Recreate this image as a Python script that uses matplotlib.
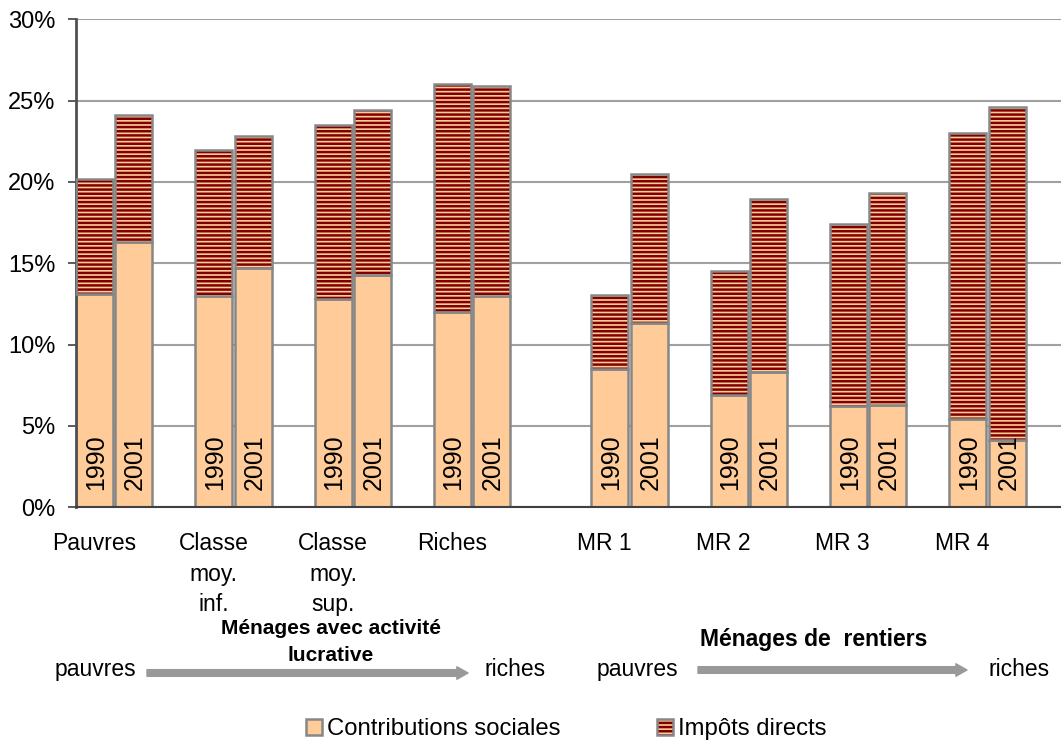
import numpy as np
import matplotlib
matplotlib.use("Agg")
import matplotlib.pyplot as plt
from matplotlib.patches import Rectangle

plt.rcParams['font.family'] = ['Liberation Sans', 'DejaVu Sans']
plt.rcParams['hatch.linewidth'] = 1.8

categories = ['Pauvres', 'Classe\nmoy.\ninf.', 'Classe\nmoy.\nsup.', 'Riches',
              'MR 1', 'MR 2', 'MR 3', 'MR 4']
years = ['1990', '2001']
series_names = ['Contributions sociales', 'Impôts directs']
# contributions sociales (% du revenu)
contrib_1990 = [13.1, 13.0, 12.8, 12.0, 8.5, 6.9, 6.25, 5.4]
contrib_2001 = [16.3, 14.7, 14.3, 13.0, 11.3, 8.3, 6.3, 4.15]
# charge totale (contributions + impôts directs)
total_1990 = [20.2, 21.95, 23.5, 26.0, 13.05, 14.55, 17.4, 23.0]
total_2001 = [24.1, 22.8, 24.4, 25.9, 20.5, 18.95, 19.3, 24.6]

impots_1990 = np.array(total_1990) - np.array(contrib_1990)
impots_2001 = np.array(total_2001) - np.array(contrib_2001)

PEACH = '#ffcc99'
DARKRED = '#800000'
EDGE = '#878787'

W, H = 1061, 742
fig = plt.figure(figsize=(W / 100, H / 100), dpi=100)
ax = fig.add_axes([76 / W, (H - 507.3) / H, (W - 76) / W, 488 / H])

# two groups of households, the second shifted right a bit
starts = np.arange(len(categories), dtype=float)
starts[4:] += 0.32
bw = 0.31
off = 0.331

for contrib, impots, shift, yr in [(contrib_1990, impots_1990, 0.0, years[0]),
                                   (contrib_2001, impots_2001, off, years[1])]:
    xs = starts + shift
    ax.bar(xs, contrib, width=bw, align='edge', color=PEACH,
           edgecolor=EDGE, linewidth=1.8, zorder=2)
    ax.bar(xs, impots, bottom=contrib, width=bw, align='edge', color=PEACH,
           edgecolor=DARKRED, hatch='----', linewidth=0, zorder=2)
    ax.bar(xs, impots, bottom=contrib, width=bw, align='edge', color='none',
           edgecolor=EDGE, linewidth=1.8, zorder=3)
    for x in xs:
        ax.text(x + bw / 2 + 0.01, 1.06, yr, rotation=90, ha='center',
                va='bottom', fontsize=18, zorder=4)

ax.set_xlim(0, (W - 76) / 119.3)
ax.set_ylim(0, 30)
ax.set_yticks(np.arange(0, 31, 5))
ax.set_yticklabels([f'{v}%' for v in range(0, 31, 5)])
ax.tick_params(axis='y', length=6, width=1.2, color='#404040', pad=9,
               labelsize=17)

label_off = np.where(np.arange(len(categories)) < 4, 0.155, 0.105)
ax.set_xticks(starts + label_off)
ax.set_xticklabels(categories, fontsize=16.5, linespacing=1.4)
ax.tick_params(axis='x', length=0, pad=18)

ax.yaxis.grid(True, color='#a0a0a0', linewidth=1.5)
ax.set_axisbelow(True)
for s in ['top', 'right']:
    ax.spines[s].set_visible(False)
ax.spines['left'].set_color('#505050')
ax.spines['left'].set_linewidth(2)
ax.spines['bottom'].set_color('#404040')
ax.spines['bottom'].set_linewidth(1.5)


def fy(y):
    return H - y


# group captions and pauvres -> riches arrows
fig.text(331 / W, fy(634) / H, 'Ménages avec activité', ha='center',
         va='baseline', fontsize=15, fontweight='bold')
fig.text(331 / W, fy(661) / H, 'lucrative', ha='center', va='baseline',
         fontsize=15, fontweight='bold')
fig.text(814 / W, fy(646) / H, 'Ménages de  rentiers', ha='center',
         va='baseline', fontsize=16.5, fontweight='bold')

for x, txt in [(95, 'pauvres'), (515, 'riches'), (637, 'pauvres'), (1019, 'riches')]:
    fig.text(x / W, fy(676) / H, txt, ha='center', va='baseline', fontsize=16.5)

arrow_kw = dict(arrowstyle='simple,head_length=0.4,head_width=0.45,tail_width=0.24',
                color='#999999', mutation_scale=20, shrinkA=0, shrinkB=0)
for x0, x1, y in [(147, 468, 673), (698, 967, 670)]:
    ax.annotate('', xy=(x1, fy(y)), xytext=(x0, fy(y)),
                xycoords='figure pixels', textcoords='figure pixels',
                arrowprops=arrow_kw, annotation_clip=False)

# legend row at the bottom, built by hand: square swatch + label
box = 16
base = 735
for (x, name), hatched in zip([(306, series_names[0]), (657, series_names[1])],
                              [False, True]):
    r = (x / W, fy(base) / H)
    wh = (box / W, box / H)
    if hatched:
        fig.add_artist(Rectangle(r, *wh, transform=fig.transFigure,
                                 facecolor=PEACH, edgecolor=DARKRED,
                                 hatch='----', linewidth=0))
        fig.add_artist(Rectangle(r, *wh, transform=fig.transFigure,
                                 facecolor='none', edgecolor=EDGE, linewidth=1.8))
    else:
        fig.add_artist(Rectangle(r, *wh, transform=fig.transFigure,
                                 facecolor=PEACH, edgecolor=EDGE, linewidth=1.8))
    fig.text((x + box + 5) / W, fy(base) / H, name, ha='left', va='baseline',
             fontsize=17.2)

fig.savefig('out.png', dpi=100)
